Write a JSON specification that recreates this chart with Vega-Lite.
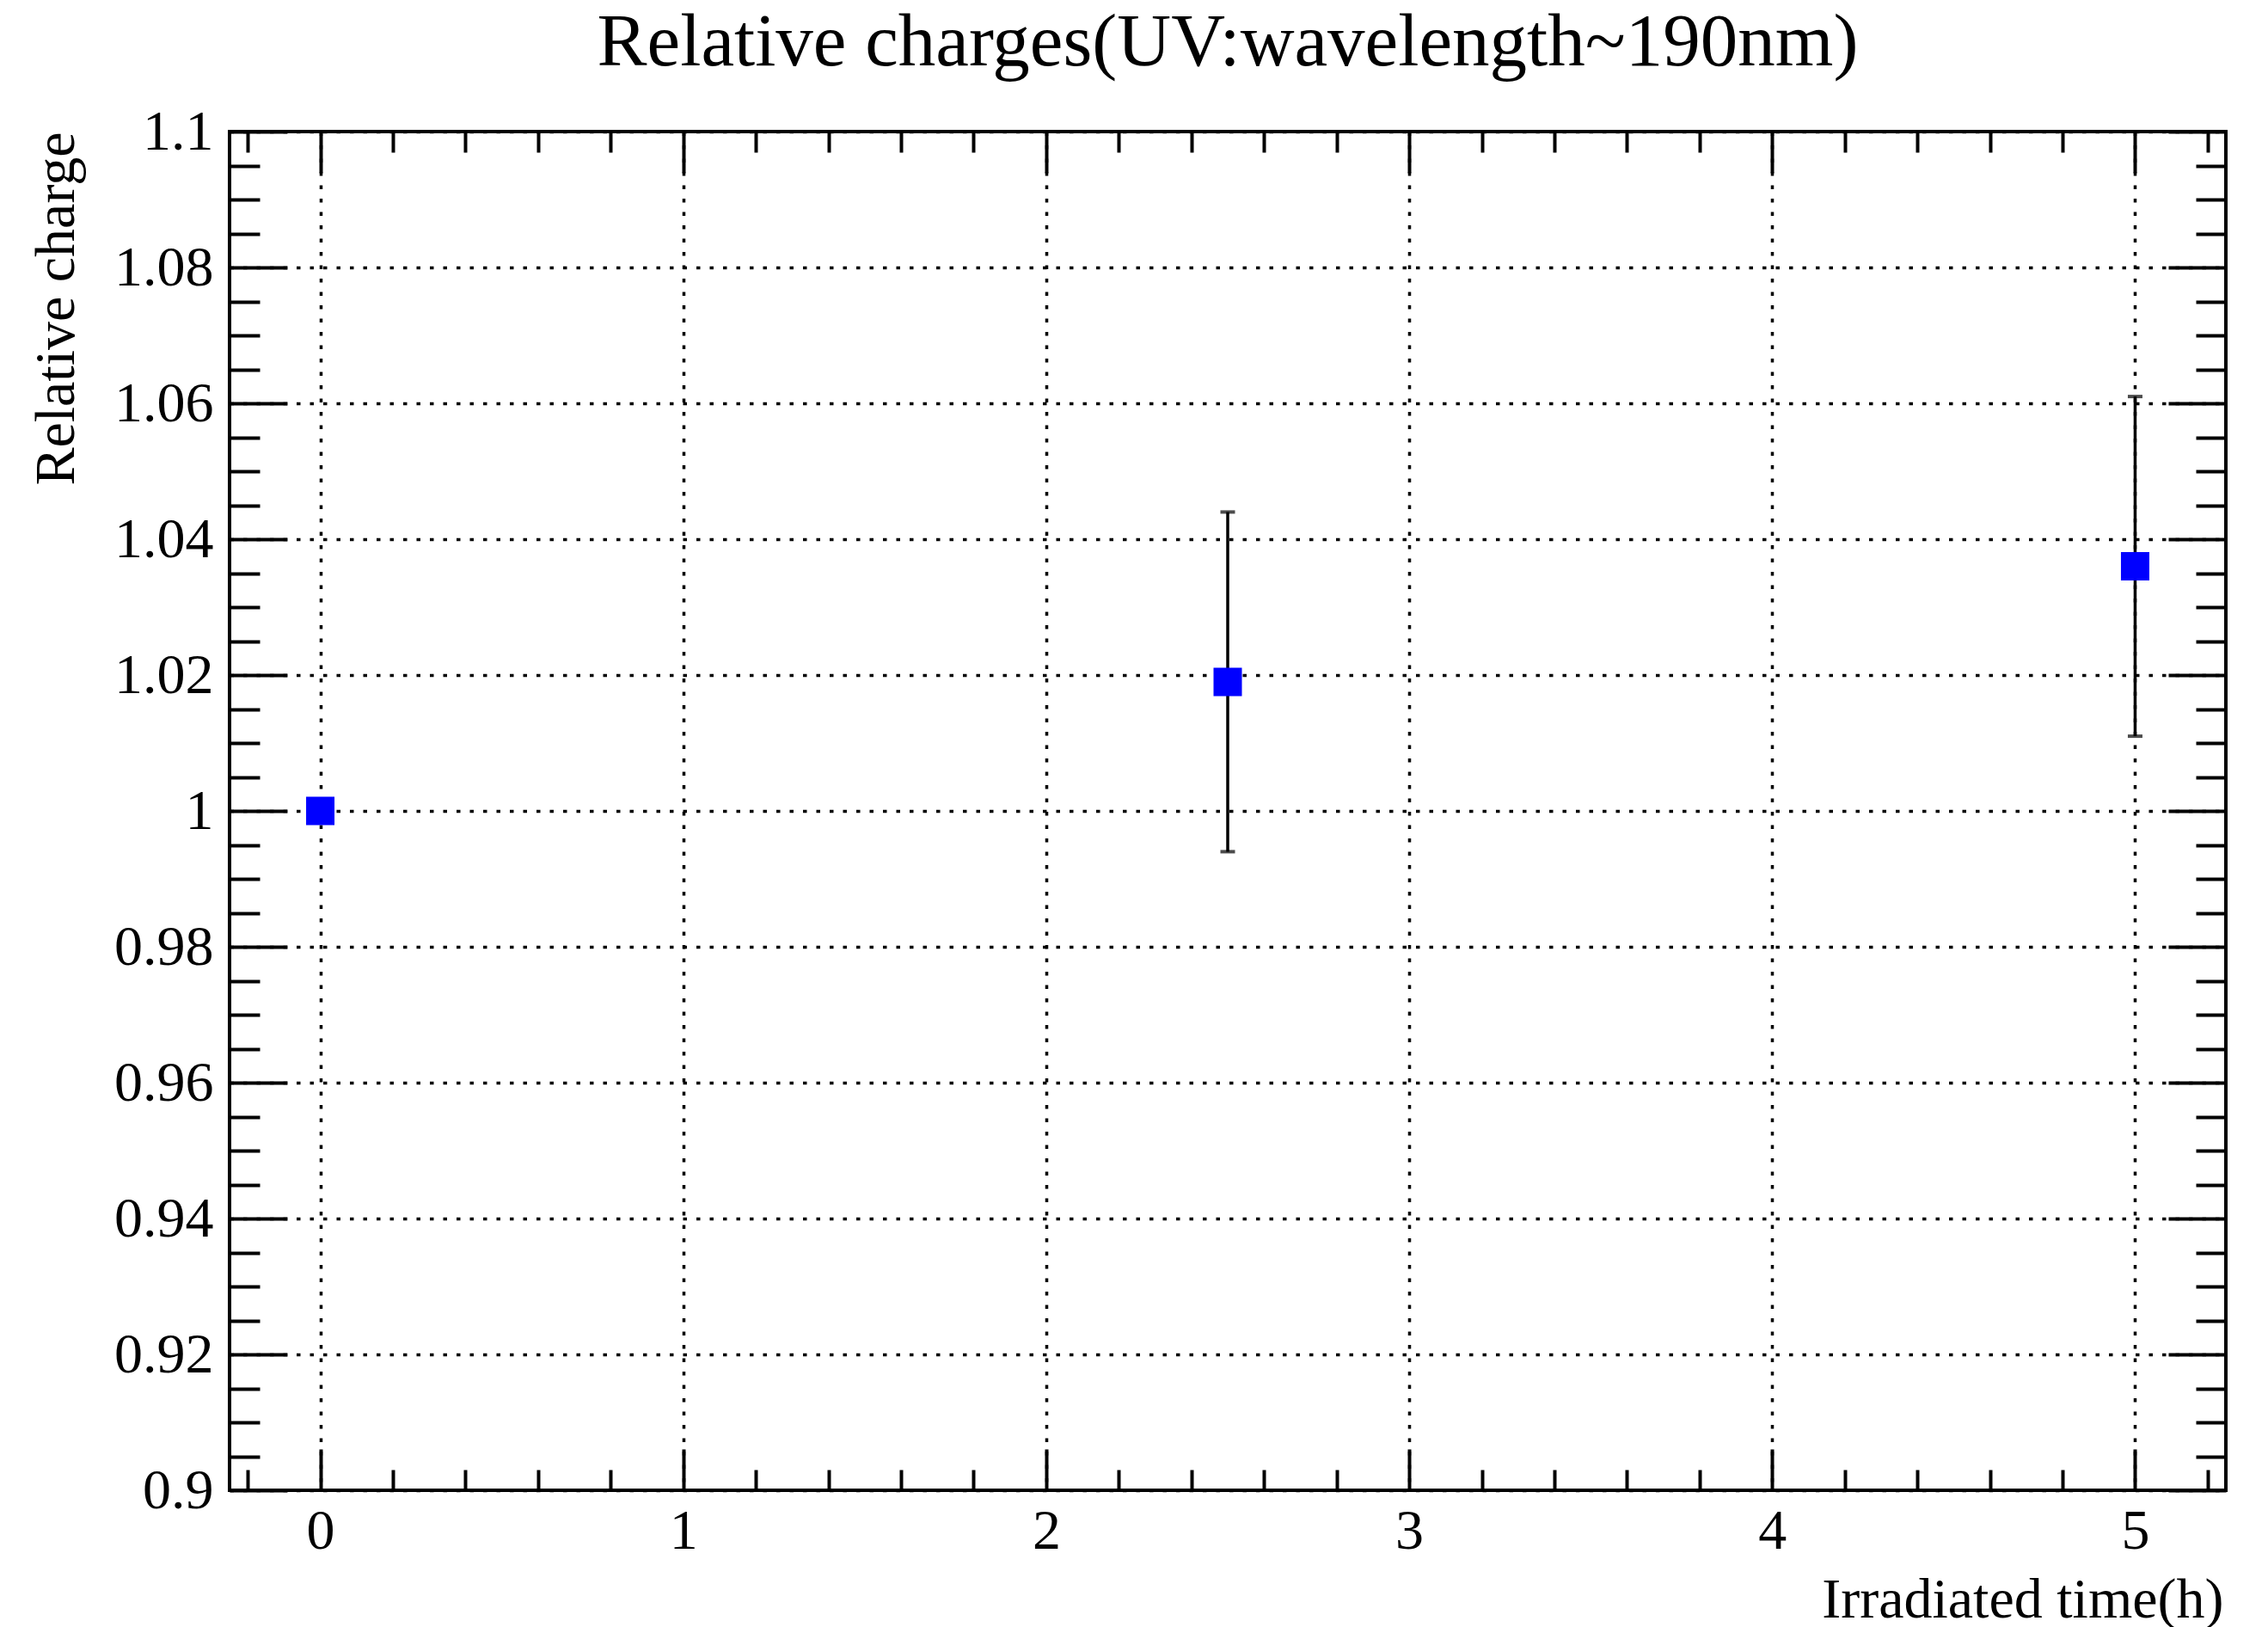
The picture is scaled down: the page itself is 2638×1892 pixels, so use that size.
{
  "$schema": "https://vega.github.io/schema/vega-lite/v6.json",
  "width": 2322,
  "height": 1580,
  "autosize": {"type": "none"},
  "padding": {"left": 267, "top": 153, "right": 49, "bottom": 159},
  "background": "white",
  "title": {
    "text": "Relative charges(UV:wavelength~190nm)",
    "fontSize": 87,
    "font": "Liberation Serif",
    "fontWeight": "normal",
    "color": "black",
    "anchor": "middle",
    "frame": "group",
    "baseline": "alphabetic",
    "offset": -43
  },
  "config": {
    "font": "Liberation Serif",
    "view": {"stroke": "black", "strokeWidth": 4},
    "axis": {
      "labelFont": "Liberation Serif",
      "titleFont": "Liberation Serif",
      "labelColor": "black",
      "titleColor": "black",
      "tickColor": "black",
      "tickWidth": 4,
      "domain": false,
      "grid": false,
      "labelOverlap": false,
      "labelFlush": false,
      "labelBound": false
    }
  },
  "datasets": {
    "pts": [
      {"t": 0, "q": 1.0},
      {"t": 2.5, "q": 1.019},
      {"t": 5, "q": 1.036}
    ],
    "err": [
      {"t": 2.5, "lo": 0.994, "hi": 1.044},
      {"t": 5, "lo": 1.011, "hi": 1.061}
    ]
  },
  "resolve": {"axis": {"x": "independent", "y": "independent"}},
  "layer": [
    {
      "data": {"name": "err"},
      "mark": {"type": "rule", "color": "black", "strokeWidth": 3.5},
      "encoding": {
        "x": {
          "field": "t", "type": "quantitative",
          "scale": {"domain": [-0.25, 5.25], "nice": false, "zero": false},
          "axis": {
            "orient": "bottom",
            "values": [0, 1, 2, 3, 4, 5],
            "format": "~g",
            "ticks": false,
            "labelFontSize": 66,
            "labelBaseline": "alphabetic",
            "labelPadding": 67,
            "grid": true,
            "gridColor": "black",
            "gridWidth": 3.5,
            "gridDash": [4.5, 11],
            "title": "Irradiated time(h)",
            "titleFontSize": 66,
            "titleFontWeight": "normal",
            "titleAlign": "right",
            "titleBaseline": "alphabetic",
            "titleX": 2319,
            "titleY": 147
          }
        },
        "y": {
          "field": "lo", "type": "quantitative",
          "scale": {"domain": [0.9, 1.1], "nice": false, "zero": false},
          "axis": {
            "orient": "left",
            "values": [0.9, 0.92, 0.94, 0.96, 0.98, 1.0, 1.02, 1.04, 1.06, 1.08, 1.1],
            "format": "~g",
            "ticks": false,
            "labelFontSize": 66,
            "labelPadding": 19,
            "labelBaseline": "middle",
            "grid": true,
            "gridColor": "black",
            "gridWidth": 3.5,
            "gridDash": [4.5, 11],
            "title": "Relative charge",
            "titleFontSize": 66,
            "titleFontWeight": "normal",
            "titleAngle": -90,
            "titleAlign": "right",
            "titleBaseline": "alphabetic",
            "titleX": -182,
            "titleY": 0
          }
        },
        "y2": {"field": "hi"}
      }
    },
    {
      "data": {"name": "err"},
      "mark": {"type": "tick", "orient": "horizontal", "color": "black", "size": 17, "thickness": 4},
      "encoding": {
        "x": {
          "field": "t", "type": "quantitative",
          "axis": {
            "orient": "bottom", "offset": -48, "tickSize": 48,
            "values": [0, 1, 2, 3, 4, 5],
            "labels": false, "title": null
          }
        },
        "y": {
          "field": "hi", "type": "quantitative",
          "axis": {
            "orient": "left", "offset": -67, "tickSize": 67,
            "values": [0.9, 0.92, 0.94, 0.96, 0.98, 1.0, 1.02, 1.04, 1.06, 1.08, 1.1],
            "labels": false, "title": null
          }
        }
      }
    },
    {
      "data": {"name": "err"},
      "mark": {"type": "tick", "orient": "horizontal", "color": "black", "size": 17, "thickness": 4},
      "encoding": {
        "x": {
          "field": "t", "type": "quantitative",
          "axis": {
            "orient": "bottom", "offset": -24, "tickSize": 24,
            "values": [-0.2, 0.2, 0.4, 0.6, 0.8, 1.2, 1.4, 1.6, 1.8, 2.2, 2.4, 2.6, 2.8, 3.2, 3.4, 3.6, 3.8, 4.2, 4.4, 4.6, 4.8, 5.2],
            "labels": false, "title": null
          }
        },
        "y": {
          "field": "lo", "type": "quantitative",
          "axis": {
            "orient": "left", "offset": -35, "tickSize": 35,
            "values": [0.905, 0.91, 0.915, 0.925, 0.93, 0.935, 0.945, 0.95, 0.955, 0.965, 0.97, 0.975, 0.985, 0.99, 0.995, 1.005, 1.01, 1.015, 1.025, 1.03, 1.035, 1.045, 1.05, 1.055, 1.065, 1.07, 1.075, 1.085, 1.09, 1.095],
            "labels": false, "title": null
          }
        }
      }
    },
    {
      "data": {"name": "pts"},
      "mark": {"type": "square", "size": 1089, "opacity": 0},
      "encoding": {
        "x": {
          "field": "t", "type": "quantitative",
          "axis": {
            "orient": "top", "offset": -24, "tickSize": 24,
            "values": [-0.2, 0.2, 0.4, 0.6, 0.8, 1.2, 1.4, 1.6, 1.8, 2.2, 2.4, 2.6, 2.8, 3.2, 3.4, 3.6, 3.8, 4.2, 4.4, 4.6, 4.8, 5.2],
            "labels": false, "title": null
          }
        },
        "y": {
          "field": "q", "type": "quantitative",
          "axis": {
            "orient": "right", "offset": -35, "tickSize": 35,
            "values": [0.905, 0.91, 0.915, 0.925, 0.93, 0.935, 0.945, 0.95, 0.955, 0.965, 0.97, 0.975, 0.985, 0.99, 0.995, 1.005, 1.01, 1.015, 1.025, 1.03, 1.035, 1.045, 1.05, 1.055, 1.065, 1.07, 1.075, 1.085, 1.09, 1.095],
            "labels": false, "title": null
          }
        }
      }
    },
    {
      "data": {"name": "pts"},
      "mark": {"type": "square", "size": 1089, "color": "#0000ff", "opacity": 1},
      "encoding": {
        "x": {
          "field": "t", "type": "quantitative",
          "axis": {
            "orient": "top", "offset": -48, "tickSize": 48,
            "values": [0, 1, 2, 3, 4, 5],
            "labels": false, "title": null
          }
        },
        "y": {
          "field": "q", "type": "quantitative",
          "axis": {
            "orient": "right", "offset": -67, "tickSize": 67,
            "values": [0.9, 0.92, 0.94, 0.96, 0.98, 1.0, 1.02, 1.04, 1.06, 1.08, 1.1],
            "labels": false, "title": null
          }
        }
      }
    }
  ]
}
